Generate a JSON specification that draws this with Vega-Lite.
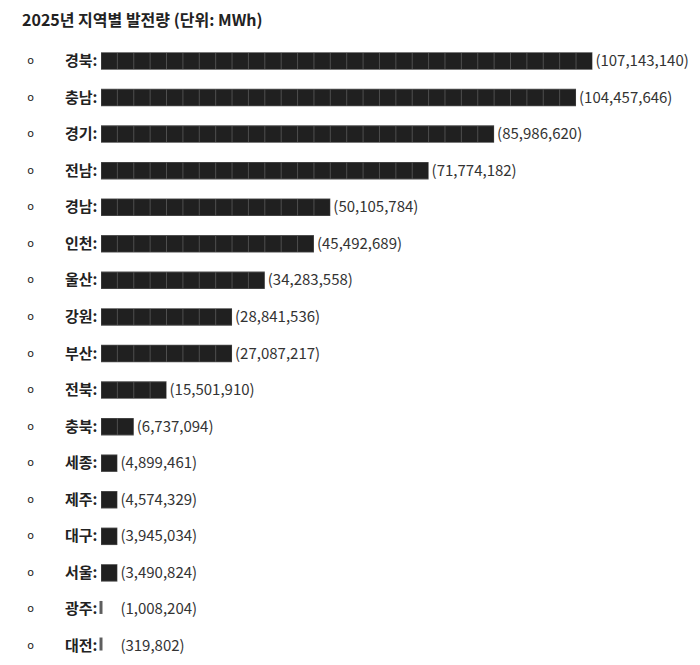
{
  "$schema": "https://vega.github.io/schema/vega-lite/v6.json",
  "width": 491.4,
  "height": 621.6,
  "autosize": {"type": "none"},
  "padding": {"left": 101, "top": 42.7, "right": 107.6, "bottom": 0.7},
  "background": "#ffffff",
  "title": {
    "text": "2025년 지역별 발전량 (단위: MWh)",
    "anchor": "start",
    "frame": "group",
    "dx": -79,
    "offset": 0.7,
    "baseline": "alphabetic",
    "font": "Noto Sans CJK KR",
    "fontSize": 16,
    "fontWeight": "bold",
    "color": "#222222"
  },
  "config": {"view": {"stroke": null}, "font": "Noto Sans CJK KR"},
  "data": {
    "values": [
      {"region": "경북", "value": 107143140, "blocks": 30, "cells": 30},
      {"region": "충남", "value": 104457646, "blocks": 29, "cells": 29},
      {"region": "경기", "value": 85986620, "blocks": 24, "cells": 24},
      {"region": "전남", "value": 71774182, "blocks": 20, "cells": 20},
      {"region": "경남", "value": 50105784, "blocks": 14, "cells": 14},
      {"region": "인천", "value": 45492689, "blocks": 13, "cells": 13},
      {"region": "울산", "value": 34283558, "blocks": 10, "cells": 10},
      {"region": "강원", "value": 28841536, "blocks": 8, "cells": 8},
      {"region": "부산", "value": 27087217, "blocks": 8, "cells": 8},
      {"region": "전북", "value": 15501910, "blocks": 4, "cells": 4},
      {"region": "충북", "value": 6737094, "blocks": 2, "cells": 2},
      {"region": "세종", "value": 4899461, "blocks": 1, "cells": 1},
      {"region": "제주", "value": 4574329, "blocks": 1, "cells": 1},
      {"region": "대구", "value": 3945034, "blocks": 1, "cells": 1},
      {"region": "서울", "value": 3490824, "blocks": 1, "cells": 1},
      {"region": "광주", "value": 1008204, "blocks": 0, "cells": 1},
      {"region": "대전", "value": 319802, "blocks": 0, "cells": 1}
    ]
  },
  "layer": [
    {
      "mark": {"type": "bar", "color": "#4e4e4e", "size": 17.5},
      "encoding": {
        "x": {"field": "blocks", "type": "quantitative", "scale": {"domain": [0, 30], "nice": false}, "axis": null},
        "y": {
          "field": "region", "type": "nominal", "sort": null,
          "scale": {"paddingInner": 0, "paddingOuter": 0},
          "axis": {
            "title": null, "domain": false, "ticks": false,
            "labelExpr": "datum.value + ':'",
            "labelFont": "Noto Sans CJK KR", "labelFontSize": 15, "labelFontWeight": "bold",
            "labelColor": "#222222", "labelPadding": 4, "labelBaseline": "middle"
          }
        }
      }
    },
    {
      "mark": {"type": "rule", "color": "#202020", "strokeWidth": 15.8, "strokeDash": [15.38, 1], "strokeDashOffset": 15.88, "strokeCap": "butt"},
      "encoding": {
        "x": {"field": "blocks", "type": "quantitative", "scale": {"domain": [0, 30], "nice": false}, "axis": null},
        "x2": {"datum": 0},
        "y": {
          "field": "region", "type": "nominal", "sort": null,
          "axis": {
            "orient": "left", "title": null, "domain": false, "ticks": false,
            "labelExpr": "'o'", "labelAlign": "center", "labelPadding": 71,
            "labelFont": "DejaVu Sans", "labelFontSize": 11, "labelFontWeight": "normal",
            "labelColor": "#222222", "labelBaseline": "middle"
          }
        }
      }
    },
    {
      "transform": [{"filter": "datum.blocks == 0"}],
      "mark": {"type": "tick", "orient": "vertical", "color": "#1a1a1a", "thickness": 3, "size": 13, "yOffset": -2},
      "encoding": {
        "x": {"field": "blocks", "type": "quantitative", "scale": {"domain": [0, 30], "nice": false}, "axis": null},
        "y": {"field": "region", "type": "nominal", "sort": null, "axis": null}
      }
    },
    {
      "transform": [{"calculate": "'(' + format(datum.value, ',') + ')'", "as": "label"}],
      "mark": {"type": "text", "align": "left", "baseline": "middle", "dx": 3, "fontSize": 15, "color": "#333333", "font": "Noto Sans CJK KR"},
      "encoding": {
        "x": {"field": "cells", "type": "quantitative", "scale": {"domain": [0, 30], "nice": false}, "axis": null},
        "y": {"field": "region", "type": "nominal", "sort": null, "axis": null},
        "text": {"field": "label"}
      }
    }
  ],
  "resolve": {"axis": {"y": "independent"}}
}
